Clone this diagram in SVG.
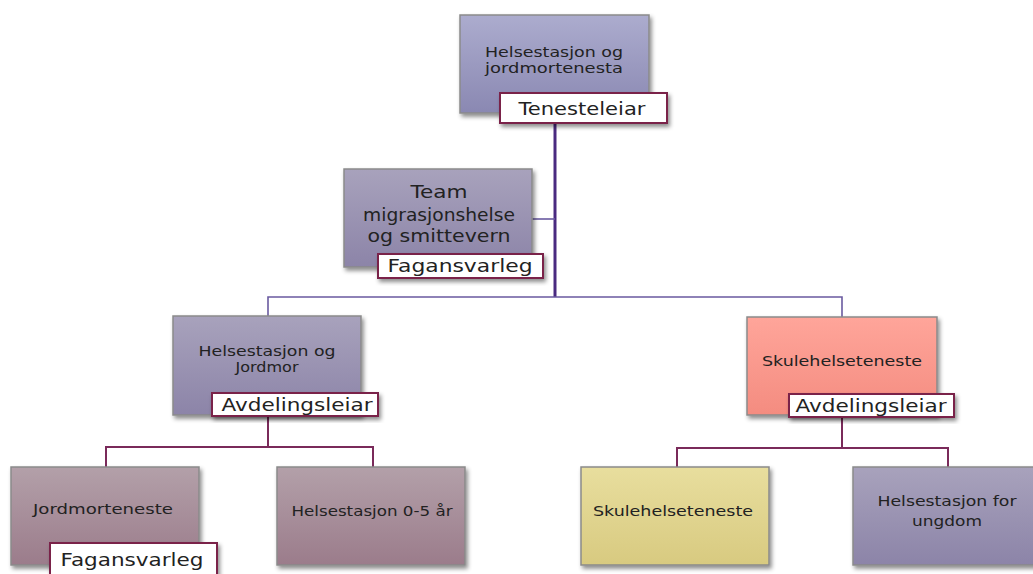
<svg xmlns="http://www.w3.org/2000/svg" width="1033" height="574" viewBox="0 0 1033 574">
<defs>
<linearGradient id="gBlue" x1="0" y1="0" x2="0" y2="1"><stop offset="0" stop-color="#acacce"/><stop offset="1" stop-color="#8a88b2"/></linearGradient>
<linearGradient id="gPurple" x1="0" y1="0" x2="0" y2="1"><stop offset="0" stop-color="#a8a2bc"/><stop offset="1" stop-color="#8c84a8"/></linearGradient>
<linearGradient id="gRed" x1="0" y1="0" x2="0" y2="1"><stop offset="0" stop-color="#ffa59a"/><stop offset="1" stop-color="#f48c80"/></linearGradient>
<linearGradient id="gMauve" x1="0" y1="0" x2="0" y2="1"><stop offset="0" stop-color="#b3a0a9"/><stop offset="1" stop-color="#9b7c8b"/></linearGradient>
<linearGradient id="gYellow" x1="0" y1="0" x2="0" y2="1"><stop offset="0" stop-color="#e8de9e"/><stop offset="1" stop-color="#d8ca80"/></linearGradient>
<filter id="sh" x="-10%" y="-10%" width="130%" height="140%"><feDropShadow dx="2" dy="3" stdDeviation="2" flood-color="#000" flood-opacity="0.45"/></filter>
</defs>
<style>
.box{stroke:#8a8a8a;stroke-width:1.5;filter:url(#sh)}
.lbl{fill:#fff;stroke:#7a2048;stroke-width:2;filter:url(#sh)}
.t{font-family:"DejaVu Sans","Liberation Sans",sans-serif;font-size:14px;fill:#222;text-anchor:middle}
.L{font-family:"DejaVu Sans","Liberation Sans",sans-serif;font-size:18px;fill:#222;text-anchor:middle}
.c1{fill:none;stroke:#4a2a80;stroke-width:3}
.c2{fill:none;stroke:#6a5aa0;stroke-width:1.6}
.c3{fill:none;stroke:#7a2a5a;stroke-width:2}
</style>
<rect width="1033" height="574" fill="#fff"/>
<g id="connectors">
<path class="c1" d="M555 123 V297"/>
<path class="c2" d="M532 219 H555"/>
<path class="c2" d="M268 316 V297 H842 V317"/>
<path class="c3" d="M268 416 V447 M106 467 V447 H373 V467"/>
<path class="c3" d="M842 417 V448 M677 467 V448 H948 V467"/>
</g>
<g id="n-top">
<rect class="box" x="460" y="15" width="189" height="98" fill="url(#gBlue)"/>
<text class="t" x="554" y="57" textLength="138" lengthAdjust="spacingAndGlyphs">Helsestasjon og</text>
<text class="t" x="554" y="73" textLength="138" lengthAdjust="spacingAndGlyphs">jordmortenesta</text>
<rect class="lbl" x="500" y="93" width="167" height="30"/>
<text class="L" x="582" y="115" textLength="127" lengthAdjust="spacingAndGlyphs">Tenesteleiar</text>
</g>
<g id="n-team">
<rect class="box" x="344" y="169" width="188" height="98" fill="url(#gPurple)"/>
<text class="L" x="439" y="198" textLength="57" lengthAdjust="spacingAndGlyphs">Team</text>
<text class="L" x="439" y="221" textLength="152" lengthAdjust="spacingAndGlyphs">migrasjonshelse</text>
<text class="L" x="439" y="242" textLength="143" lengthAdjust="spacingAndGlyphs">og smittevern</text>
<rect class="lbl" x="378" y="254" width="165" height="24"/>
<text class="L" x="460" y="272" textLength="145" lengthAdjust="spacingAndGlyphs">Fagansvarleg</text>
</g>
<g id="n-hj">
<rect class="box" x="173" y="316" width="188" height="99" fill="url(#gPurple)"/>
<text class="t" x="267" y="356" textLength="137" lengthAdjust="spacingAndGlyphs">Helsestasjon og</text>
<text class="t" x="267" y="372" textLength="63" lengthAdjust="spacingAndGlyphs">Jordmor</text>
<rect class="lbl" x="212" y="393" width="166" height="23"/>
<text class="L" x="297" y="411" textLength="151" lengthAdjust="spacingAndGlyphs">Avdelingsleiar</text>
</g>
<g id="n-skule">
<rect class="box" x="747" y="317" width="190" height="98" fill="url(#gRed)"/>
<text class="t" x="842" y="366" textLength="160" lengthAdjust="spacingAndGlyphs">Skulehelseteneste</text>
<rect class="lbl" x="789" y="394" width="165" height="23"/>
<text class="L" x="871" y="412" textLength="151" lengthAdjust="spacingAndGlyphs">Avdelingsleiar</text>
</g>
<g id="n-jordmor">
<rect class="box" x="11" y="467" width="188" height="98" fill="url(#gMauve)"/>
<text class="t" x="103" y="514" textLength="140" lengthAdjust="spacingAndGlyphs">Jordmorteneste</text>
<rect class="lbl" x="50" y="543" width="167" height="40"/>
<text class="L" x="132" y="566" textLength="143" lengthAdjust="spacingAndGlyphs">Fagansvarleg</text>
</g>
<g id="n-hs05">
<rect class="box" x="277" y="467" width="188" height="98" fill="url(#gMauve)"/>
<text class="t" x="372" y="516" textLength="161" lengthAdjust="spacingAndGlyphs">Helsestasjon 0-5 år</text>
</g>
<g id="n-skule2">
<rect class="box" x="581" y="467" width="188" height="98" fill="url(#gYellow)"/>
<text class="t" x="673" y="516" textLength="160" lengthAdjust="spacingAndGlyphs">Skulehelseteneste</text>
</g>
<g id="n-ungdom">
<rect class="box" x="853" y="467" width="188" height="98" fill="url(#gPurple)"/>
<text class="t" x="947" y="506" textLength="139" lengthAdjust="spacingAndGlyphs">Helsestasjon for</text>
<text class="t" x="947" y="526" textLength="70" lengthAdjust="spacingAndGlyphs">ungdom</text>
</g>
</svg>
